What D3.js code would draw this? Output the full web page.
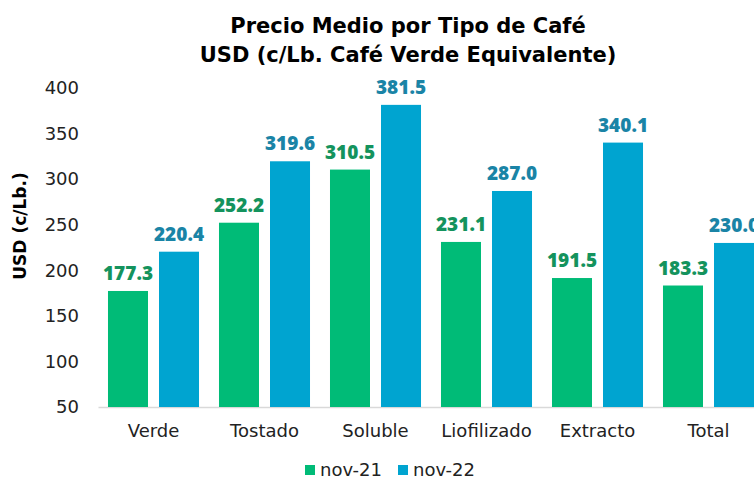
<!DOCTYPE html>
<html>
<head>
<meta charset="utf-8">
<script src="https://cdn.jsdelivr.net/npm/d3@7"></script>
<style>
  html, body { margin: 0; padding: 0; background: #fff; }
  svg { display: block; }
</style>
</head>
<body>
<svg id="chart" width="754" height="480"></svg>
<script>
const categories = ["Verde", "Tostado", "Soluble", "Liofilizado", "Extracto", "Total"];
const seriesNames = ["nov-21", "nov-22"];
const nov21 = [177.3, 252.2, 310.5, 231.1, 191.5, 183.3];
const nov22 = [220.4, 319.6, 381.5, 287.0, 340.1, 230.0];
const yTicks = [50, 100, 150, 200, 250, 300, 350, 400];
const titleLines = ["Precio Medio por Tipo de Café", "USD (c/Lb. Café Verde Equivalente)"];
const yLabel = "USD (c/Lb.)";

const barColors = ["#00BB77", "#00A4D0"];
const labelColors = ["#14935D", "#1A84A6"];

const regFont = "'DejaVu Sans', sans-serif";
const boldFont = "'Open Sans', sans-serif";
const heavyFont = "'DejaVu Sans', sans-serif";

const svg = d3.select("#chart");
const seriesValues = [nov21, nov22];

const x0 = d3.scaleBand().domain(categories).range([98, 764])
  .paddingInner(0.18).paddingOuter(0.09);
const x1 = d3.scaleBand().domain(seriesNames).range([0, x0.bandwidth()]).paddingInner(0.2157);
const y = d3.scaleLinear().domain([50, 400]).range([407, 88]);

// Title
svg.append("g").selectAll("text").data(titleLines).join("text")
  .attr("x", 408).attr("y", (d, i) => 33 + i * 29)
  .attr("text-anchor", "middle")
  .style("font-family", heavyFont).style("font-weight", 700).style("font-size", "21px")
  .attr("fill", "#000").text(d => d);

// Y axis
const yAxis = svg.append("g").attr("transform", "translate(98,0)")
  .call(d3.axisLeft(y).tickValues(yTicks).tickSize(0).tickPadding(19));
yAxis.select(".domain").remove();
yAxis.selectAll("text").style("font-family", regFont).style("font-size", "18px").attr("fill", "#222");

// X axis
const xAxis = svg.append("g").attr("transform", "translate(0,407)")
  .call(d3.axisBottom(x0).tickSize(0).tickPadding(17));
xAxis.select(".domain").attr("stroke", "#d9d9d9").attr("stroke-width", 1.5);
xAxis.selectAll("text").style("font-family", regFont).style("font-size", "18px").attr("fill", "#222");

// Y label
svg.append("text")
  .attr("transform", "translate(26,226) rotate(-90)")
  .attr("text-anchor", "middle")
  .style("font-family", heavyFont).style("font-weight", 700).style("font-size", "17px")
  .attr("fill", "#000").text(yLabel);

// Bars
const groups = svg.append("g").selectAll("g").data(categories).join("g")
  .attr("transform", d => `translate(${x0(d)},0)`);

groups.selectAll("rect")
  .data((c, i) => seriesNames.map((s, k) => ({ s, k, v: seriesValues[k][i] })))
  .join("rect")
  .attr("x", d => x1(d.s)).attr("width", x1.bandwidth())
  .attr("y", d => y(d.v)).attr("height", d => y(50) - y(d.v))
  .attr("fill", d => barColors[d.k]);

groups.selectAll("text.val")
  .data((c, i) => seriesNames.map((s, k) => ({ s, k, v: seriesValues[k][i] })))
  .join("text").attr("class", "val")
  .attr("x", d => x1(d.s) + x1.bandwidth() / 2)
  .attr("y", d => y(d.v) - 11)
  .attr("text-anchor", "middle")
  .style("font-family", boldFont).style("font-weight", 800).style("font-size", "19px")
  .attr("fill", d => labelColors[d.k])
  .text(d => d.v.toFixed(1));

// Legend
const legend = svg.append("g").attr("transform", "translate(305,470)");
const legItems = [{ n: seriesNames[0], x: 0 }, { n: seriesNames[1], x: 93 }];
legItems.forEach((it, k) => {
  legend.append("rect").attr("x", it.x).attr("y", -5).attr("width", 10).attr("height", 10)
    .attr("fill", barColors[k]);
  legend.append("text").attr("x", it.x + 15).attr("y", 0).attr("dy", "0.35em")
    .style("font-family", regFont).style("font-size", "18px").attr("fill", "#222").text(it.n);
});
</script>
</body>
</html>
